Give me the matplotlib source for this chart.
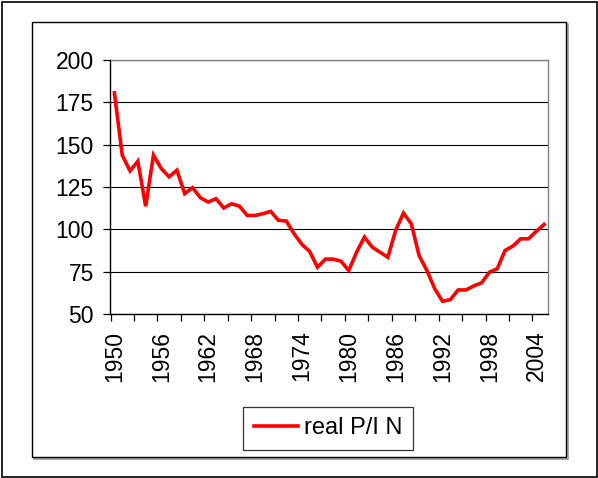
import numpy as np
import matplotlib
matplotlib.use("Agg")
import matplotlib.pyplot as plt
from matplotlib.patches import Rectangle
from matplotlib.ticker import FixedLocator

plt.rcParams['font.family'] = ['Liberation Sans', 'DejaVu Sans']

# data (one point per year)
years = list(range(1950, 2006))
real_pin = [180.6, 143.8, 134.5, 140.2, 113.6, 143.8, 135.9, 131.0, 134.9, 121.1,
            124.6, 118.7, 116.1, 118.1, 112.6, 115.1, 113.7, 108.2, 108.2, 109.2,
            110.6, 105.3, 104.9, 97.4, 91.1, 86.9, 77.6, 82.4, 82.4, 81.2,
            75.7, 86.5, 95.4, 89.5, 86.5, 83.5, 99.4, 109.6, 103.3, 84.5,
            75.7, 64.9, 57.5, 58.5, 64.2, 64.2, 66.6, 68.4, 74.7, 76.7,
            87.5, 90.1, 94.4, 94.4, 98.8, 102.9]
year_labels = list(range(1950, 2005, 6))
y_ticks = [50, 75, 100, 125, 150, 175, 200]

W, H = 598, 478
fig = plt.figure(figsize=(W / 100, H / 100), dpi=100)

# outer frame and chart area frame (with a little shadow), behind the axes
fig.patches.append(Rectangle((2 / W, 1 - 477 / H), 595 / W, 475 / H,
                             transform=fig.transFigure, fill=False,
                             edgecolor='black', linewidth=1.2, zorder=-3))
fig.patches.append(Rectangle((34 / W, 1 - 459 / H), 534 / W, 435 / H,
                             transform=fig.transFigure, fill=False,
                             edgecolor='#9a9a9a', linewidth=1.2, zorder=-2))
fig.patches.append(Rectangle((32 / W, 1 - 457 / H), 534 / W, 435 / H,
                             transform=fig.transFigure, facecolor='white',
                             edgecolor='black', linewidth=1.0, zorder=-1))

ax = fig.add_axes([110.5 / W, 1 - 314 / H, (548 - 110.5) / W, (314 - 60) / H])
ax.plot(years, real_pin, color='#ff0000', linewidth=2.6, label='real P/I N',
        solid_joinstyle='miter')

ax.set_xlim(1949.5, 2005.5)
ax.set_ylim(50, 200)
ax.set_yticks(y_ticks)
ax.set_xticks(year_labels)
ax.set_xticklabels([str(y) for y in year_labels], rotation=90)
ax.xaxis.set_minor_locator(FixedLocator(np.arange(1949.5, 2004, 3)))

ax.tick_params(axis='x', which='major', length=0, pad=12, labelsize=16.5)
ax.tick_params(axis='x', which='minor', length=5, width=0.9, direction='out')
ax.tick_params(axis='y', length=5, width=0.9, direction='out', pad=7,
               labelsize=16.5)

ax.grid(axis='y', color='black', linewidth=0.8)
ax.set_axisbelow(True)
for s in ['left', 'bottom']:
    ax.spines[s].set_color('black')
    ax.spines[s].set_linewidth(1.0)
for s in ['top', 'right']:
    ax.spines[s].set_color('#808080')
    ax.spines[s].set_linewidth(1.0)

leg = fig.legend(loc='center', bbox_to_anchor=(328 / W, 1 - 428.5 / H),
                 frameon=True, fancybox=False, edgecolor='black',
                 fontsize=17, handlelength=1.85, handletextpad=0.25,
                 borderpad=0.45, borderaxespad=0)
leg.get_frame().set_linewidth(0.9)

fig.savefig('out.png', dpi=100)
